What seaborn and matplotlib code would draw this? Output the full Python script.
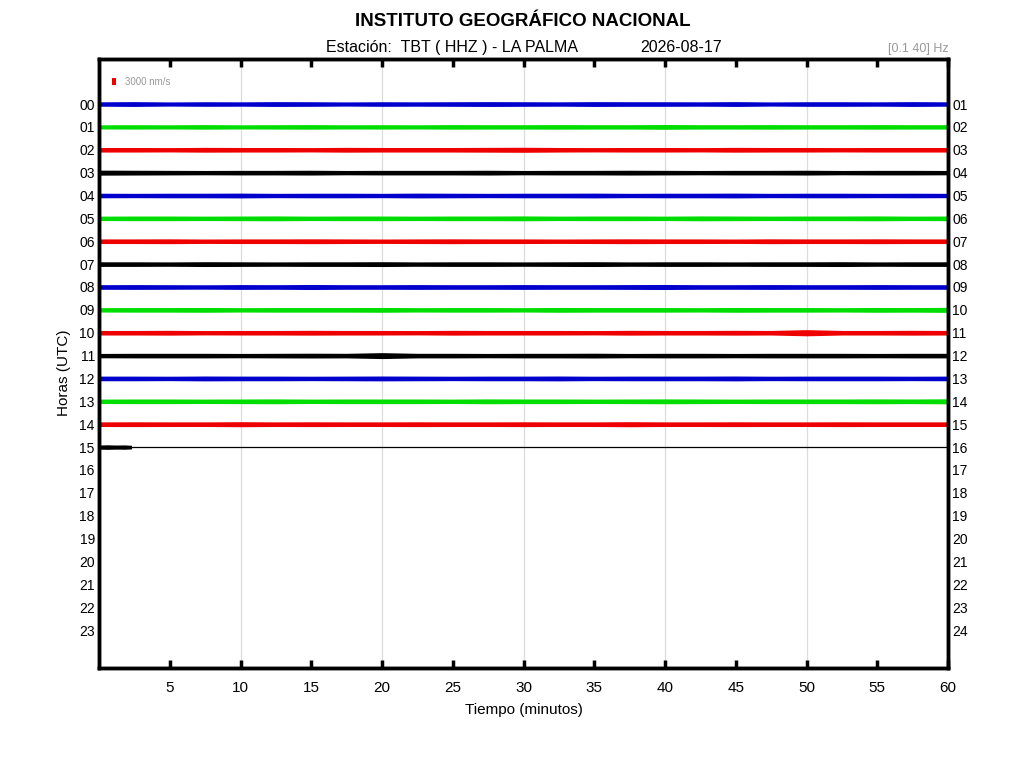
import numpy as np
import pandas as pd
import seaborn as sns
import matplotlib.pyplot as plt
from matplotlib.patches import Rectangle

sns.set_style("white")
plt.rcParams['font.family'] = ['Liberation Sans', 'DejaVu Sans']
plt.rcParams['text.color'] = 'black'
plt.rcParams['axes.labelcolor'] = 'black'
plt.rcParams['xtick.color'] = 'black'
plt.rcParams['ytick.color'] = 'black'

minutes = [0, 2.5, 5, 7.5, 10, 12.5, 15, 17.5, 20, 22.5, 25, 27.5, 30,
           32.5, 35, 37.5, 40, 42.5, 45, 47.5, 50, 52.5, 55, 57.5, 60]

# peak amplitude of each hourly trace (nm/s)
amp_h00 = [950, 1050, 900, 1000, 950, 1050, 1000, 900, 1000, 950, 1000, 1050, 1000,
           950, 1050, 1000, 1000, 950, 1050, 900, 1000, 1000, 950, 1050, 950]
amp_h01 = [900, 950, 900, 1000, 900, 950, 1000, 900, 950, 900, 1000, 950, 950,
           1000, 950, 950, 1050, 950, 950, 1000, 950, 950, 1000, 950, 950]
amp_h02 = [1000, 1000, 950, 1050, 1000, 1000, 950, 1050, 1000, 1000, 1000, 1050, 1100,
           1000, 950, 1000, 1000, 950, 1050, 1000, 1000, 950, 1000, 1000, 1000]
amp_h03 = [1100, 1050, 1000, 950, 1000, 1000, 1050, 950, 1000, 1000, 1000, 1050, 950,
           1000, 1000, 1050, 1000, 950, 1000, 1000, 1050, 950, 1000, 1000, 950]
amp_h04 = [1000, 950, 1000, 1000, 1050, 950, 1000, 1000, 950, 1050, 1000, 950, 1000,
           1000, 1050, 950, 1000, 1000, 1050, 950, 1000, 1000, 950, 1000, 950]
amp_h05 = [950, 1000, 1000, 950, 1000, 1050, 950, 1000, 1000, 950, 1000, 1000, 1050,
           950, 1000, 1000, 950, 1050, 1000, 950, 1000, 1000, 1050, 950, 1000]
amp_h06 = [1000, 1000, 1050, 950, 1000, 1000, 1050, 1000, 950, 1000, 1050, 1000, 1000,
           950, 1000, 1050, 1000, 1000, 950, 1050, 1000, 1000, 1050, 1000, 1000]
amp_h07 = [1000, 1000, 950, 1050, 1000, 950, 1000, 1000, 1050, 950, 1000, 1000, 950,
           1000, 1050, 950, 1000, 1000, 950, 1000, 1000, 1050, 950, 1000, 1000]
amp_h08 = [1000, 1050, 1000, 950, 1050, 1000, 1100, 1000, 1000, 1050, 1000, 1000, 1050,
           1000, 1000, 1050, 1100, 1000, 1000, 1050, 1000, 1000, 1050, 1000, 1000]
amp_h09 = [950, 1000, 1000, 1050, 950, 1000, 1000, 1000, 1050, 950, 1000, 1000, 950,
           1050, 1000, 1000, 1000, 950, 1050, 1000, 1000, 950, 1050, 1000, 1100]
amp_h10 = [1000, 1000, 1050, 950, 1000, 1000, 1050, 1000, 1000, 950, 1050, 1000, 1000,
           1000, 950, 1050, 1000, 1000, 1050, 1000, 1350, 1000, 1000, 1050, 1000]
amp_h11 = [950, 1000, 1000, 1000, 950, 1000, 1050, 1000, 1300, 1000, 1000, 950, 1000,
           1000, 1050, 950, 1000, 1000, 950, 1000, 1000, 1000, 950, 1000, 1000]
amp_h12 = [1000, 1000, 950, 1050, 1000, 1000, 950, 1000, 1050, 1000, 950, 1000, 1000,
           1050, 950, 1000, 1000, 1000, 1050, 950, 1000, 1000, 1000, 950, 1000]
amp_h13 = [950, 1000, 1000, 950, 1000, 1050, 950, 1000, 1000, 1000, 950, 1050, 1000,
           1000, 950, 1000, 1050, 1000, 950, 1000, 1000, 1000, 1050, 1000, 1100]
amp_h14 = [1000, 1050, 1000, 1000, 1100, 1000, 1050, 1000, 1000, 1050, 1000, 1000, 1050,
           1000, 1000, 1100, 1000, 1000, 1050, 1000, 1000, 1050, 1000, 1000, 1000]
amplitudes = [amp_h00, amp_h01, amp_h02, amp_h03, amp_h04, amp_h05, amp_h06, amp_h07,
              amp_h08, amp_h09, amp_h10, amp_h11, amp_h12, amp_h13, amp_h14]

# hour 15 only has the first couple of minutes recorded
last_minutes = [0, 0.6, 1.2, 1.8, 2.3]
last_amp = [900, 1000, 900, 950, 800]

trace_colors = ['#0000cc', '#00dd00', '#ee0000', '#000000']
left_labels = ['%02d' % h for h in range(24)]
right_labels = ['%02d' % h for h in range(1, 25)]
x_ticks = [5, 10, 15, 20, 25, 30, 35, 40, 45, 50, 55, 60]

nm_per_row = 10000.0   # 3000 nm/s is drawn as 0.3 of a row spacing
ylim = (24.66, -1.97)

fig = plt.figure(figsize=(10.24, 7.68), dpi=100)
ax = fig.add_axes([0.0967, 0.1302, 0.8291, 0.7930])

for h, amp in enumerate(amplitudes):
    col = trace_colors[h % 4]
    a = np.array(amp) / nm_per_row
    ax.fill_between(minutes, h - a, h + a, color=col, linewidth=0)
    df = pd.DataFrame({'min': minutes, 'row': [h] * len(minutes)})
    sns.lineplot(data=df, x='min', y='row', color=col, linewidth=1.6, ax=ax)

a = np.array(last_amp) / nm_per_row
ax.fill_between(last_minutes, 15 - a, 15 + a, color='black', linewidth=0)
ax.plot([last_minutes[0], 60], [15, 15], color='black', linewidth=0.9)

# scale bar
ax.add_patch(Rectangle((0.95, -0.985 - 0.15), 0.22, 0.3, color='#ee0000', linewidth=0))
ax.text(1.85, -0.985, '3000 nm/s', color='#999999', fontsize=7, va='center')

for g in [10, 20, 30, 40, 50]:
    ax.axvline(g, color='#dddddd', linewidth=0.9, zorder=0)

ax.set_xlim(0, 60)
ax.set_ylim(*ylim)
ax.set_xticks(x_ticks)
ax.set_xticklabels([str(t) for t in x_ticks], fontsize=11)
ax.tick_params(axis='x', direction='in', length=6, width=2.5, top=True, bottom=True, pad=9)
ax.set_yticks(range(24))
ax.set_yticklabels(left_labels, fontsize=10)
ax.tick_params(axis='y', length=0, pad=3)

ax2 = ax.twinx()
ax2.set_ylim(*ylim)
ax2.set_yticks(range(24))
ax2.set_yticklabels(right_labels, fontsize=10)
ax2.tick_params(axis='y', length=0, pad=3)

for a_ in (ax, ax2):
    for s in a_.spines.values():
        s.set_linewidth(2.5)
        s.set_color('black')

ax.set_xlabel('Tiempo (minutos)', fontsize=11, labelpad=6)
ax.set_ylabel('Horas (UTC)', fontsize=11)
ax.yaxis.set_label_coords(-0.033, 0.484)

fig.text(0.511, 0.972, 'INSTITUTO GEOGRÁFICO NACIONAL', ha='center', va='center',
         fontsize=13.5, fontweight='bold')
fig.text(0.441, 0.938, 'Estación:  TBT ( HHZ ) - LA PALMA', ha='center', va='center', fontsize=11.5)
fig.text(0.665, 0.938, '2026-08-17', ha='center', va='center', fontsize=11.5)
fig.text(0.926, 0.936, '[0.1 40] Hz', ha='right', va='center', fontsize=9, color='#999999')

fig.savefig('out.png', dpi=100)
